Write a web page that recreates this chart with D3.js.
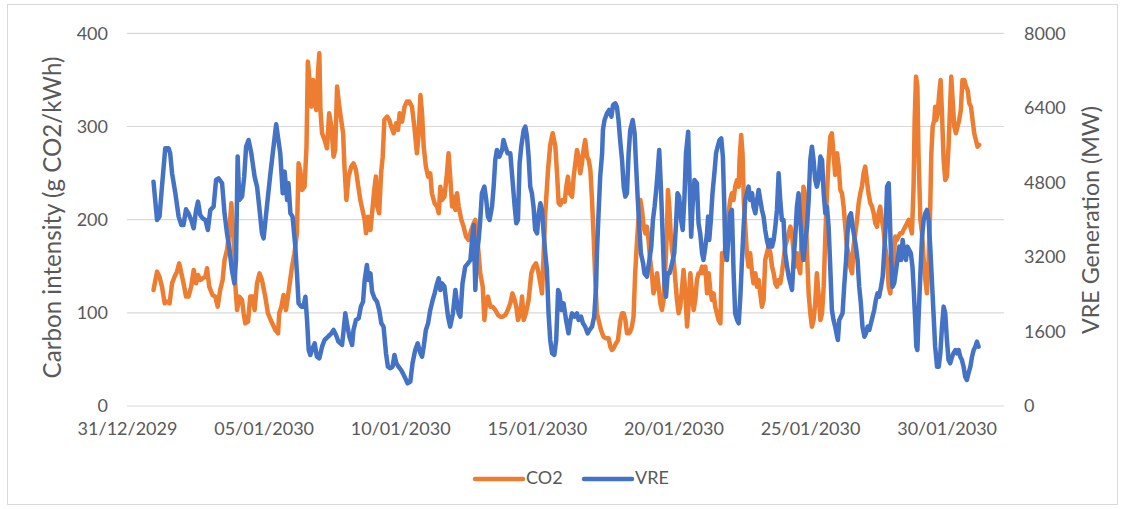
<!DOCTYPE html>
<html>
<head>
<meta charset="utf-8">
<script src="https://cdn.jsdelivr.net/npm/d3@7"></script>
<style>
  html, body { margin: 0; padding: 0; background: #fff; }
  svg { display: block; font-family: Lato, "Open Sans", sans-serif; }
</style>
</head>
<body>
<svg id="chart" width="1125" height="509"></svg>
<script>
// ---- data (x = days after 31/12/2029 00:00) ----
const leftTicks = [0, 100, 200, 300, 400];
const rightTicks = [0, 1600, 3200, 4800, 6400, 8000];
const xTickDays = [0, 5, 10, 15, 20, 25, 30];
const seriesNames = ["CO2", "VRE"];
const seriesColors = ["#ED7D31", "#4472C4"];
const leftTitle = "Carbon intensity (g CO2/kWh)";
const rightTitle = "VRE Generation (MW)";

const co2 = [[0.97,124.5],[1.10,144.2],[1.19,138.8],[1.28,128.1],[1.38,110.2],[1.46,112],[1.56,110.2],[1.65,131.7],[1.74,138.8],[1.83,144.2],[1.91,153.1],[1.99,142.4],[2.07,131.7],[2.16,117.4],[2.25,117.4],[2.35,128.1],[2.44,146],[2.53,131.7],[2.60,140.6],[2.68,135.2],[2.77,137],[2.87,138.8],[2.93,147.8],[3.01,128.1],[3.13,119.1],[3.23,117.4],[3.32,106.6],[3.41,124.5],[3.50,135.2],[3.57,156.7],[3.66,167.4],[3.74,185.3],[3.82,217.5],[3.87,192.5],[3.93,163.9],[3.96,131.7],[4.03,103],[4.11,117.4],[4.21,113.8],[4.27,99.5],[4.33,88.7],[4.43,90.5],[4.51,117.4],[4.60,117.4],[4.67,103],[4.76,131.7],[4.85,142.4],[4.94,135.2],[5.06,117.4],[5.16,99.5],[5.26,92.3],[5.43,81.6],[5.53,78],[5.57,99.5],[5.65,106.6],[5.73,119.1],[5.82,103],[5.89,117.4],[5.94,128.1],[6.04,149.6],[6.13,163.9],[6.22,185.3],[6.28,260.5],[6.34,253.3],[6.41,231.9],[6.50,235.4],[6.57,278.4],[6.62,369.6],[6.68,349.9],[6.75,321.3],[6.81,349.9],[6.87,326.7],[6.93,317.7],[6.99,357.1],[7.04,378.6],[7.08,317.7],[7.14,292.7],[7.23,285.5],[7.32,276.6],[7.40,314.1],[7.48,299.9],[7.56,267.6],[7.62,274.8],[7.69,342.8],[7.77,321.3],[7.84,307],[7.91,292.7],[7.96,256.9],[8.03,221.1],[8.11,246.2],[8.21,256.9],[8.29,260.5],[8.38,253.3],[8.45,239],[8.54,221.1],[8.62,210.4],[8.70,199.7],[8.75,185.3],[8.82,203.2],[8.91,188.9],[8.97,206.8],[9.05,231.9],[9.11,246.2],[9.16,214],[9.23,206.8],[9.30,249.7],[9.36,267.6],[9.42,307],[9.52,310.6],[9.60,307],[9.67,299.9],[9.76,292.7],[9.85,303.4],[9.92,296.3],[9.98,314.1],[10.07,305.2],[10.16,321.3],[10.25,326.7],[10.33,326.7],[10.43,321.3],[10.53,296.3],[10.61,271.2],[10.67,289.1],[10.74,333.8],[10.80,314.1],[10.86,278.4],[10.94,256.9],[11.02,246.2],[11.10,249.7],[11.16,228.3],[11.26,217.5],[11.35,214],[11.41,206.8],[11.47,235.4],[11.53,221.1],[11.62,224.7],[11.70,246.2],[11.77,271.2],[11.83,246.2],[11.90,214],[11.95,224.7],[12.02,210.4],[12.08,228.3],[12.14,214],[12.24,199.7],[12.32,192.5],[12.41,181.8],[12.50,178.2],[12.60,188.9],[12.69,196.1],[12.75,199.7],[12.81,181.8],[12.87,163.9],[12.93,142.4],[13.02,128.1],[13.08,92.3],[13.14,110.2],[13.21,117.4],[13.30,106.6],[13.38,106.6],[13.48,103],[13.58,97.7],[13.66,95.9],[13.76,95.9],[13.85,97.7],[13.94,103],[14.03,110.2],[14.11,120.9],[14.19,113.8],[14.25,106.6],[14.31,92.3],[14.40,99.5],[14.46,117.4],[14.52,92.3],[14.60,99.5],[14.70,113.8],[14.80,142.4],[14.88,149.6],[14.97,153.1],[15.04,146],[15.13,131.7],[15.19,120.9],[15.25,163.9],[15.31,206.8],[15.41,253.3],[15.49,280],[15.58,292.7],[15.68,278.4],[15.74,249.7],[15.80,217.5],[15.86,215.8],[15.94,221.1],[16.02,219.3],[16.08,235.4],[16.14,246.2],[16.20,228.3],[16.29,224.7],[16.35,246.2],[16.41,260.5],[16.47,274.8],[16.53,267.6],[16.59,249.7],[16.65,260.5],[16.71,274.8],[16.77,285.5],[16.84,267.6],[16.90,264],[16.96,253.3],[17.02,221.1],[17.08,181.8],[17.14,135.2],[17.20,99.5],[17.26,92.3],[17.35,81.6],[17.44,74.4],[17.53,72.6],[17.63,72.6],[17.69,63.7],[17.75,60.1],[17.81,61.9],[17.90,67.3],[17.97,70.8],[18.06,92.3],[18.12,99.5],[18.18,99.5],[18.24,92.3],[18.30,78],[18.36,78],[18.42,79.8],[18.48,85.2],[18.54,95.9],[18.60,142.4],[18.67,178.2],[18.72,199.7],[18.79,221.1],[18.85,210.4],[18.91,192.5],[18.97,185.3],[19.03,192.5],[19.09,178.2],[19.15,156.7],[19.22,138.8],[19.27,120.9],[19.34,128.1],[19.40,142.4],[19.46,128.1],[19.52,110.2],[19.58,103],[19.64,113.8],[19.70,146],[19.76,185.3],[19.80,231.9],[19.85,214],[19.90,185.3],[19.95,167.4],[20.01,156.7],[20.07,135.2],[20.13,113.8],[20.19,99.5],[20.25,106.6],[20.31,124.5],[20.37,146],[20.43,124.5],[20.50,85.2],[20.56,110.2],[20.62,142.4],[20.68,120.9],[20.74,103],[20.80,113.8],[20.86,135.2],[20.92,142.4],[20.98,142.4],[21.05,149.6],[21.10,142.4],[21.17,149.6],[21.23,120.9],[21.29,142.4],[21.35,124.5],[21.41,113.8],[21.47,120.9],[21.53,106.6],[21.59,99.5],[21.65,92.3],[21.72,88.7],[21.78,163.9],[21.84,156.7],[21.90,171],[21.96,185.3],[22.02,206.8],[22.08,221.1],[22.14,228.3],[22.20,221.1],[22.26,235.4],[22.33,242.6],[22.39,235.4],[22.42,264],[22.48,290.9],[22.53,271.2],[22.58,217.5],[22.63,192.5],[22.69,163.9],[22.75,149.6],[22.81,163.9],[22.88,142.4],[22.93,131.7],[23.00,142.4],[23.06,128.1],[23.12,135.2],[23.18,120.9],[23.24,106.6],[23.30,113.8],[23.36,156.7],[23.42,163.9],[23.48,171],[23.55,163.9],[23.61,149.6],[23.67,142.4],[23.73,131.7],[23.79,128.1],[23.85,135.2],[23.91,131.7],[23.97,142.4],[24.03,156.7],[24.09,171],[24.16,178.2],[24.22,185.3],[24.28,192.5],[24.34,185.3],[24.40,163.9],[24.46,149.6],[24.52,163.9],[24.58,149.6],[24.64,142.4],[24.71,192.5],[24.76,235.4],[24.83,224.7],[24.89,163.9],[24.95,120.9],[25.01,99.5],[25.07,85.2],[25.13,92.3],[25.19,110.2],[25.25,142.4],[25.31,120.9],[25.38,92.3],[25.44,99.5],[25.50,128.1],[25.56,181.8],[25.62,228.3],[25.68,264],[25.74,289.1],[25.80,292.7],[25.86,271.2],[25.92,248],[25.99,271.2],[26.05,256.9],[26.11,231.9],[26.17,228.3],[26.23,214],[26.29,192.5],[26.35,171],[26.41,163.9],[26.47,149.6],[26.54,142.4],[26.59,171],[26.66,185.3],[26.72,199.7],[26.78,217.5],[26.84,228.3],[26.90,235.4],[26.96,249.7],[27.02,256.9],[27.08,242.6],[27.14,228.3],[27.21,217.5],[27.27,214],[27.33,206.8],[27.39,196.1],[27.45,192.5],[27.51,206.8],[27.57,214],[27.63,199.7],[27.69,188.9],[27.75,171],[27.82,156.7],[27.88,128.1],[27.94,120.9],[28.00,142.4],[28.06,156.7],[28.12,181.8],[28.18,178.2],[28.24,181.8],[28.30,185.3],[28.37,185.3],[28.42,188.9],[28.49,192.5],[28.55,196.1],[28.61,199.7],[28.67,192.5],[28.73,185.3],[28.79,235.4],[28.83,307],[28.88,353.5],[28.93,342.8],[28.97,271.2],[29.04,199.7],[29.10,185.3],[29.16,156.7],[29.22,135.2],[29.28,120.9],[29.34,156.7],[29.40,214],[29.44,271.2],[29.49,299.9],[29.55,307],[29.58,321.3],[29.62,307],[29.67,314.1],[29.73,335.6],[29.78,349.9],[29.83,314.1],[29.89,264],[29.95,242.6],[30.01,246.2],[30.07,278.4],[30.13,324.9],[30.17,353.5],[30.22,328.5],[30.28,299.9],[30.34,292.7],[30.40,299.9],[30.46,307],[30.52,317.7],[30.58,349.9],[30.65,349.9],[30.71,342.8],[30.77,339.2],[30.83,324.9],[30.89,321.3],[30.95,307],[31.01,292.7],[31.07,285.5],[31.13,278.4],[31.19,280.2]];

const vre = [[0.97,4816],[1.10,3993],[1.19,4065],[1.28,4709],[1.40,5532],[1.52,5532],[1.58,5424],[1.65,4995],[1.77,4566],[1.89,4065],[1.99,3886],[2.07,3886],[2.16,4222],[2.25,4136],[2.35,3993],[2.44,3814],[2.53,4208],[2.60,4387],[2.68,4100],[2.77,4029],[2.87,3993],[2.96,3778],[3.05,4208],[3.17,4279],[3.26,4852],[3.35,4888],[3.48,4780],[3.57,4136],[3.66,3707],[3.74,3421],[3.84,2920],[3.93,2633],[3.99,3134],[4.05,5353],[4.11,4422],[4.21,4494],[4.29,4923],[4.36,5567],[4.45,5710],[4.55,5424],[4.67,4923],[4.76,4709],[4.84,4279],[4.94,3707],[5.00,3599],[5.12,4279],[5.25,4995],[5.46,6047],[5.61,5424],[5.70,4566],[5.77,5031],[5.86,4422],[5.91,4780],[5.98,4136],[6.06,4065],[6.16,3421],[6.22,2848],[6.28,2204],[6.38,2133],[6.46,2133],[6.53,2347],[6.59,1846],[6.65,1202],[6.71,1095],[6.79,1238],[6.87,1345],[6.95,1059],[7.04,1023],[7.14,1274],[7.23,1417],[7.36,1488],[7.48,1560],[7.56,1632],[7.65,1524],[7.74,1381],[7.87,1310],[7.93,1632],[7.99,1989],[8.05,1775],[8.14,1488],[8.24,1310],[8.29,1632],[8.38,1846],[8.48,1882],[8.56,2133],[8.64,2240],[8.70,2705],[8.78,3027],[8.84,2705],[8.91,2848],[8.97,2455],[9.06,2311],[9.15,2240],[9.23,2061],[9.31,1775],[9.39,1703],[9.48,1131],[9.55,844],[9.64,809],[9.72,844],[9.79,1095],[9.86,916],[9.94,844],[10.03,773],[10.10,701],[10.19,590],[10.27,487],[10.37,522],[10.45,916],[10.55,1202],[10.64,1345],[10.74,1131],[10.80,1059],[10.86,1274],[10.94,1632],[11.02,1775],[11.10,2061],[11.19,2276],[11.26,2419],[11.35,2633],[11.41,2741],[11.47,2490],[11.53,2633],[11.62,2562],[11.69,2204],[11.75,1918],[11.83,1703],[11.93,1989],[12.02,2490],[12.08,2204],[12.14,1989],[12.20,1918],[12.28,2633],[12.38,2991],[12.48,3063],[12.57,3134],[12.63,3564],[12.69,3886],[12.75,2490],[12.81,3277],[12.87,3564],[12.93,3993],[12.99,4566],[13.08,4709],[13.15,4422],[13.21,4065],[13.27,3993],[13.36,4279],[13.42,4709],[13.48,5281],[13.54,5496],[13.63,5353],[13.73,5496],[13.78,5710],[13.85,5567],[13.93,5424],[14.03,5424],[14.11,4852],[14.19,4279],[14.25,3921],[14.31,3993],[14.37,5210],[14.43,5567],[14.52,5925],[14.58,5997],[14.64,5782],[14.70,5353],[14.76,4709],[14.82,4566],[14.88,4279],[14.94,3778],[15.01,3707],[15.07,4136],[15.13,4351],[15.19,4208],[15.25,3707],[15.31,3277],[15.37,2920],[15.43,1989],[15.49,1417],[15.56,1131],[15.64,1095],[15.71,1417],[15.78,2490],[15.83,2419],[15.90,2061],[15.98,2204],[16.07,1846],[16.16,1560],[16.23,1846],[16.29,1989],[16.38,1918],[16.47,1989],[16.53,1846],[16.62,1918],[16.69,1775],[16.77,1703],[16.86,1560],[16.93,1632],[17.02,1703],[17.10,1918],[17.17,2562],[17.20,3277],[17.26,4136],[17.32,4923],[17.39,5424],[17.42,5925],[17.48,6140],[17.57,6283],[17.65,6355],[17.73,6211],[17.79,6462],[17.87,6498],[17.93,6426],[17.99,6140],[18.06,5639],[18.12,5281],[18.18,4709],[18.24,4494],[18.30,4566],[18.36,5424],[18.42,5925],[18.51,6140],[18.58,5854],[18.63,5210],[18.69,4494],[18.75,3850],[18.81,3277],[18.89,3063],[18.94,2848],[19.03,2777],[19.12,3134],[19.19,3421],[19.25,3993],[19.31,4279],[19.37,4637],[19.43,5066],[19.48,5496],[19.54,4709],[19.60,3778],[19.67,2633],[19.73,2347],[19.79,2848],[19.86,2848],[19.95,3063],[20.03,3277],[20.09,3850],[20.15,4566],[20.21,4494],[20.28,3993],[20.34,3778],[20.40,4422],[20.46,5424],[20.54,5889],[20.65,3635],[20.70,4279],[20.77,4852],[20.86,4780],[20.92,3921],[20.98,3707],[21.05,3277],[21.10,3134],[21.17,3421],[21.23,3707],[21.27,4065],[21.31,3564],[21.37,3993],[21.43,4566],[21.51,5066],[21.56,5424],[21.62,5567],[21.69,5710],[21.75,5746],[21.81,5353],[21.86,4351],[21.90,3277],[21.96,3134],[22.02,3707],[22.08,4136],[22.14,4208],[22.20,2920],[22.26,1989],[22.33,1846],[22.39,1775],[22.45,2347],[22.51,3134],[22.57,3850],[22.63,4422],[22.69,4566],[22.75,4709],[22.81,4422],[22.88,4566],[22.93,4279],[23.00,4136],[23.06,4422],[23.12,4637],[23.18,4422],[23.24,4208],[23.30,4065],[23.36,3778],[23.42,3564],[23.48,3421],[23.55,3564],[23.61,3421],[23.67,3564],[23.73,3850],[23.79,4208],[23.85,4995],[23.91,4422],[23.97,3993],[24.03,3993],[24.09,3277],[24.16,2991],[24.22,2777],[24.28,2633],[24.34,2490],[24.40,3134],[24.46,3635],[24.52,4279],[24.58,4566],[24.64,3993],[24.71,3421],[24.76,3134],[24.83,3564],[24.89,3850],[24.95,4422],[25.01,5281],[25.07,5567],[25.13,5281],[25.19,4852],[25.25,4709],[25.31,4852],[25.38,5353],[25.44,5281],[25.50,4566],[25.56,4136],[25.62,4279],[25.68,3850],[25.74,2991],[25.80,2061],[25.86,1846],[25.92,1703],[25.99,1488],[26.02,1417],[26.07,1846],[26.13,1918],[26.19,1989],[26.25,2562],[26.32,3134],[26.37,3707],[26.44,4065],[26.50,4136],[26.56,3850],[26.62,3635],[26.68,3421],[26.74,3134],[26.80,2562],[26.86,2204],[26.92,1703],[26.99,1488],[27.05,1560],[27.11,1703],[27.17,1632],[27.23,1775],[27.29,1918],[27.35,2061],[27.41,2276],[27.47,2419],[27.53,2347],[27.60,2562],[27.66,2777],[27.72,3349],[27.77,3850],[27.82,4709],[27.88,4780],[27.91,4279],[27.97,3134],[28.02,2562],[28.08,2633],[28.15,2920],[28.20,3134],[28.27,3421],[28.33,3134],[28.39,3564],[28.45,3277],[28.51,3134],[28.57,3421],[28.63,3349],[28.69,3277],[28.75,2991],[28.79,2562],[28.85,1846],[28.89,1274],[28.93,1202],[28.97,1846],[29.04,2848],[29.10,3635],[29.16,3993],[29.22,4136],[29.28,4208],[29.34,3993],[29.40,3421],[29.46,2705],[29.52,1989],[29.58,1274],[29.65,844],[29.71,844],[29.77,1131],[29.83,1703],[29.89,2133],[29.95,1989],[30.01,1417],[30.07,988],[30.13,916],[30.20,1059],[30.25,1131],[30.32,1202],[30.38,1131],[30.44,1202],[30.50,1059],[30.56,988],[30.62,844],[30.68,630],[30.74,558],[30.80,701],[30.87,844],[30.93,1059],[30.99,1202],[31.05,1274],[31.11,1381],[31.17,1274]];

// ---- layout ----
const W = 1125, H = 509;
const plot = { left: 127, right: 1004, top: 33.3, bottom: 406 };
const t0 = Date.UTC(2029, 11, 31);
const toDate = d => new Date(t0 + d * 864e5);

const svg = d3.select("#chart");

// outer border
svg.append("rect").attr("x", 7.5).attr("y", 4.5).attr("width", W - 15).attr("height", H - 9)
  .attr("fill", "#fff").attr("stroke", "#d9d9d9").attr("stroke-width", 1);

const x = d3.scaleUtc().domain([toDate(0), toDate(32.1)]).range([plot.left, plot.right]);
const yL = d3.scaleLinear().domain([0, 400]).range([plot.bottom, plot.top]);
const yR = d3.scaleLinear().domain([0, 8000]).range([plot.bottom, plot.top]);

const textColor = "#595959";
const fontSize = 18;

// gridlines
svg.append("g").selectAll("line").data(leftTicks).join("line")
  .attr("x1", plot.left).attr("x2", plot.right)
  .attr("y1", d => yL(d)).attr("y2", d => yL(d))
  .attr("stroke", "#d9d9d9").attr("stroke-width", 1.2);

// left axis
const gL = svg.append("g").attr("transform", `translate(${plot.left - 19},0)`)
  .call(d3.axisLeft(yL).tickValues(leftTicks).tickSize(0).tickPadding(0));
gL.select(".domain").remove();
gL.selectAll("text").attr("fill", textColor).style("font-size", fontSize + "px").attr("font-family", "Lato");

// right axis
const gR = svg.append("g").attr("transform", `translate(${plot.right + 20},0)`)
  .call(d3.axisRight(yR).tickValues(rightTicks).tickFormat(d3.format("d")).tickSize(0).tickPadding(0));
gR.select(".domain").remove();
gR.selectAll("text").attr("fill", textColor).style("font-size", fontSize + "px").attr("font-family", "Lato");

// x axis
const fmt = d3.utcFormat("%d/%m/%Y");
const gX = svg.append("g").attr("transform", `translate(0,${plot.bottom + 16})`)
  .call(d3.axisBottom(x).tickValues(xTickDays.map(toDate)).tickFormat(fmt).tickSize(0).tickPadding(0));
gX.select(".domain").remove();
gX.selectAll("text").attr("fill", textColor).style("font-size", fontSize + "px").attr("font-family", "Lato");

// axis titles (fitted to the reference lengths)
const midY = (plot.top + plot.bottom) / 2;
function title(txt, cx, cy, targetLen) {
  const t = svg.append("text").attr("transform", `translate(${cx},${cy}) rotate(-90)`)
    .attr("text-anchor", "middle").attr("dominant-baseline", "middle")
    .attr("fill", textColor).style("font-size", "20px").text(txt);
  const len = t.node().getComputedTextLength();
  if (len > 0) t.style("font-size", (20 * targetLen / len).toFixed(2) + "px");
}
title(leftTitle, 55, 217.5, 322);
title(rightTitle, 1093, 220, 228);

// lines
const lineL = d3.line().x(d => x(toDate(d[0]))).y(d => yL(d[1]));
const lineR = d3.line().x(d => x(toDate(d[0]))).y(d => yR(d[1]));

svg.append("path").datum(co2).attr("d", lineL)
  .attr("fill", "none").attr("stroke", seriesColors[0]).attr("stroke-width", 4.5)
  .attr("stroke-linejoin", "round").attr("stroke-linecap", "round");
svg.append("path").datum(vre).attr("d", lineR)
  .attr("fill", "none").attr("stroke", seriesColors[1]).attr("stroke-width", 4.5)
  .attr("stroke-linejoin", "round").attr("stroke-linecap", "round");

// legend
const legendY = 479;
const legendX = [475, 584];
const lg = svg.append("g");
seriesNames.forEach((name, i) => {
  lg.append("line").attr("x1", legendX[i]).attr("x2", legendX[i] + 48)
    .attr("y1", legendY).attr("y2", legendY)
    .attr("stroke", seriesColors[i]).attr("stroke-width", 4.5).attr("stroke-linecap", "round");
  lg.append("text").attr("x", legendX[i] + 51).attr("y", legendY)
    .attr("dominant-baseline", "middle").attr("fill", textColor)
    .style("font-size", fontSize + "px").text(name);
});
</script>
</body>
</html>
